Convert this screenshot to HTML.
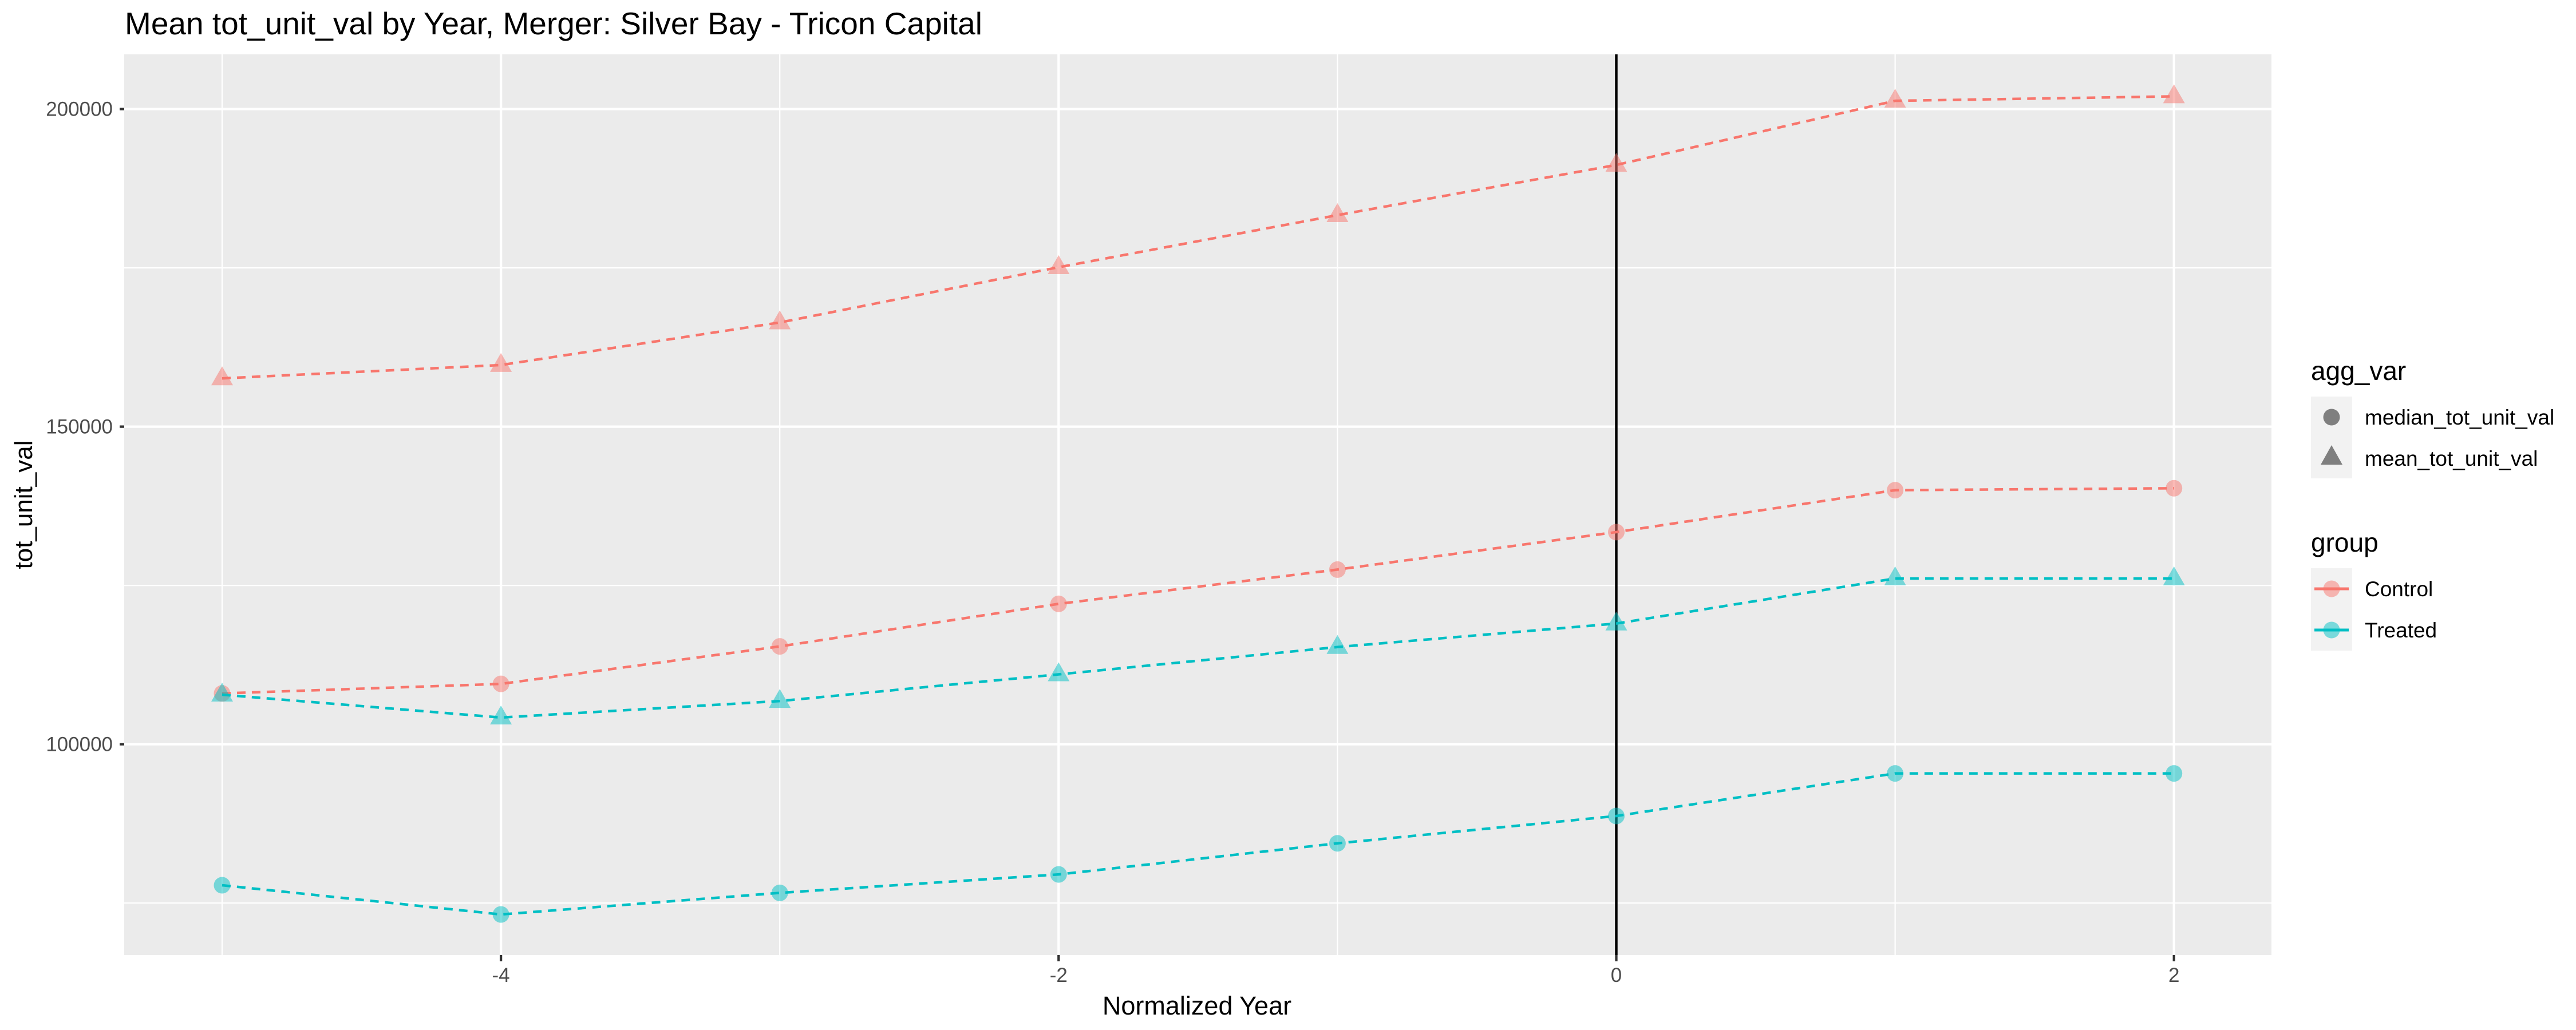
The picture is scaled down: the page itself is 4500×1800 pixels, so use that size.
<!DOCTYPE html>
<html><head><meta charset="utf-8"><style>
html,body{margin:0;padding:0;background:#fff;}
svg{display:block;font-family:"Liberation Sans",Arial,sans-serif;}
</style></head><body>
<svg id="chart" width="4500" height="1800" viewBox="0 0 4500 1800" xmlns="http://www.w3.org/2000/svg">
<rect width="4500" height="1800" fill="#fff"/>
<text x="218" y="60" font-size="55" fill="#000">Mean tot_unit_val by Year, Merger: Silver Bay - Tricon Capital</text>
<rect x="217" y="95" width="3751" height="1574" fill="#ebebeb"/>
<g id="grid"></g>
<g id="vline"></g>
<g id="series"></g>
<g id="axes"></g>
<text x="2091" y="1773" font-size="45" text-anchor="middle" fill="#000">Normalized Year</text>
<text transform="translate(56,882) rotate(-90)" font-size="44" text-anchor="middle" fill="#000">tot_unit_val</text>
<g>
<text x="4037" y="664" font-size="46" fill="#000">agg_var</text>
<rect x="4037" y="693" width="72" height="143" fill="#f2f2f2"/>
<circle cx="4073" cy="729" r="14.5" fill="#7f7f7f"/>
<polygon points="4073,778 4092,812 4054,812" fill="#7f7f7f"/>
<text x="4131" y="742" font-size="37" fill="#000">median_tot_unit_val</text>
<text x="4131" y="814" font-size="37" fill="#000">mean_tot_unit_val</text>
</g>
<g>
<text x="4037" y="964" font-size="46" fill="#000">group</text>
<rect x="4037" y="993" width="72" height="144" fill="#f2f2f2"/>
<line x1="4043" y1="1029" x2="4103" y2="1029" stroke="#F8766D" stroke-width="5"/>
<circle cx="4073" cy="1029" r="14.5" fill="#F8766D" fill-opacity="0.5"/>
<line x1="4043" y1="1101" x2="4103" y2="1101" stroke="#00BFC4" stroke-width="5"/>
<circle cx="4073" cy="1101" r="14.5" fill="#00BFC4" fill-opacity="0.5"/>
<text x="4131" y="1042" font-size="37" fill="#000">Control</text>
<text x="4131" y="1114" font-size="37" fill="#000">Treated</text>
</g>
</svg>
<script>
const years = [-5,-4,-3,-2,-1,0,1,2];
const controlMean = [157600,159700,166400,175100,183300,191200,201300,202000];
const controlMedian = [108000,109500,115400,122100,127500,133400,140000,140300];
const treatedMean = [107800,104200,106800,111000,115300,119000,126100,126100];
const treatedMedian = [77800,73200,76600,79500,84400,88700,95400,95400];
const xTicks = [-4,-2,0,2];
const yTicks = [100000,150000,200000];
const yMinor = [75000,125000,175000];
const xMinor = [-5,-3,-1,1];

const NS='http://www.w3.org/2000/svg';
const PL=217,PR=3968,PT=95,PB=1669;
function sx(v){return 2823.5+v*487.1;}
function sy(v){return 190.6+(200000-v)*0.0111;}
function mk(tag,attrs,parent){const e=document.createElementNS(NS,tag);for(const k in attrs)e.setAttribute(k,attrs[k]);parent.appendChild(e);return e;}
const grid=document.getElementById('grid'),axes=document.getElementById('axes'),series=document.getElementById('series');
yMinor.forEach(v=>{const l=mk('line',{x1:PL,x2:PR,y1:sy(v),y2:sy(v),stroke:'#fff','stroke-width':2.2},grid);

});
xMinor.forEach(v=>{const l=mk('line',{x1:sx(v),x2:sx(v),y1:PT,y2:PB,stroke:'#fff','stroke-width':2.2},grid);

});
yTicks.forEach(v=>{const l=mk('line',{x1:PL,x2:PR,y1:sy(v),y2:sy(v),stroke:'#fff','stroke-width':4.3},grid);


const t=mk('line',{x1:PL-8,x2:PL,y1:sy(v),y2:sy(v),stroke:'#333','stroke-width':4.3},axes);


const tx=mk('text',{x:PL-20,y:sy(v)+12,'font-size':35,'text-anchor':'end',fill:'#4d4d4d'},axes);tx.textContent=String(v);

});
xTicks.forEach(v=>{const l=mk('line',{x1:sx(v),x2:sx(v),y1:PT,y2:PB,stroke:'#fff','stroke-width':4.3},grid);


const t=mk('line',{x1:sx(v),x2:sx(v),y1:PB,y2:PB+11,stroke:'#333','stroke-width':4.3},axes);


const tx=mk('text',{x:sx(v),y:1716,'font-size':35,'text-anchor':'middle',fill:'#4d4d4d'},axes);tx.textContent=String(v);

});
const vl=mk('line',{x1:sx(0),x2:sx(0),y1:PT,y2:PB,stroke:'#000','stroke-width':4.5},document.getElementById('vline'));



function draw(vals,color,shape,name){
  const pts=years.map((y,i)=>sx(y)+','+sy(vals[i])).join(' ');
  const pl=mk('polyline',{points:pts,fill:'none',stroke:color,'stroke-width':4.5,'stroke-dasharray':'15 11'},series);
  
  
  years.forEach((y,i)=>{
    const cx=sx(y),cy=sy(vals[i]);let m;
    if(shape==='circle'){m=mk('circle',{cx:cx,cy:cy,r:14.5,fill:color,'fill-opacity':0.5},series);}
    else{m=mk('polygon',{points:`${cx},${cy-21} ${cx+19},${cy+12} ${cx-19},${cy+12}`,fill:color,'fill-opacity':0.5},series);}
    
    
  });
}
draw(controlMean,'#F8766D','tri','control-mean');
draw(controlMedian,'#F8766D','circle','control-median');
draw(treatedMean,'#00BFC4','tri','treated-mean');
draw(treatedMedian,'#00BFC4','circle','treated-median');
</script>
</body></html>
